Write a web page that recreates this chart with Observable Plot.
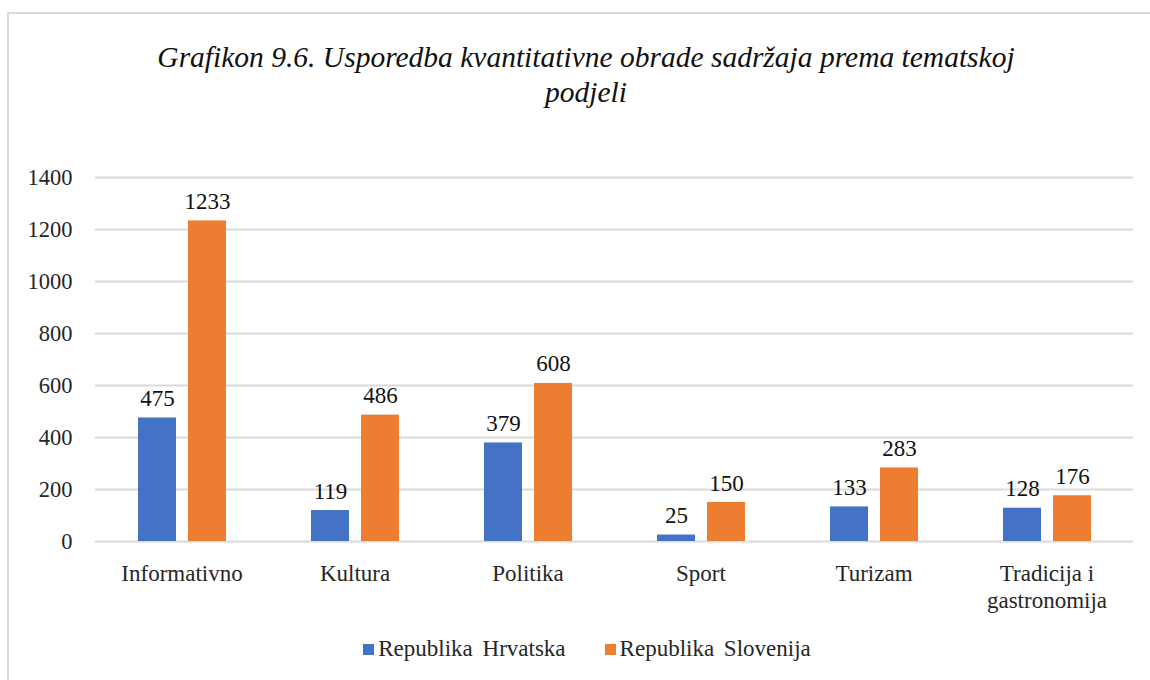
<!DOCTYPE html>
<html>
<head>
<meta charset="utf-8">
<script src="https://cdn.jsdelivr.net/npm/d3@7"></script>
<script src="https://cdn.jsdelivr.net/npm/@observablehq/plot@0.6"></script>
<style>
  html, body { margin: 0; padding: 0; background: #fff; }
  body { width: 1150px; height: 680px; position: relative; overflow: hidden; font-family: "Liberation Serif", Tinos, "Times New Roman", Times, "DejaVu Serif", serif; }
  #frame { position: absolute; left: 7px; top: 12px; width: 1170px; height: 720px; border: 2px solid #d9d9d9; box-sizing: border-box; }
  #title { position: absolute; left: 0; top: 40px; width: 1172px; text-align: center; font-style: italic; font-size: 29.5px; line-height: 35px; color: #111; }
  #chart { position: absolute; left: 0; top: 150px; }
  #legend { position: absolute; left: 0; top: 636px; width: 1174px; display: flex; justify-content: center; align-items: center; font-size: 23px; color: #262626; word-spacing: 4px; }
  .item { display: flex; align-items: center; }
  .item + .item { margin-left: 39px; }
  .sw { width: 11px; height: 11px; margin-right: 4px; }
</style>
</head>
<body>
<div id="frame"></div>
<div id="title">Grafikon 9.6. Usporedba kvantitativne obrade sadržaja prema tematskoj<br>podjeli</div>
<div id="chart"></div>
<div id="legend"></div>
<script>
const categories = ["Informativno", "Kultura", "Politika", "Sport", "Turizam", "Tradicija i gastronomija"];
const categoryLabels = ["Informativno", "Kultura", "Politika", "Sport", "Turizam", "Tradicija i\ngastronomija"];
const series = ["Republika Hrvatska", "Republika Slovenija"];
const hrvatska = [475, 119, 379, 25, 133, 128];
const slovenija = [1233, 486, 608, 150, 283, 176];
const yTicks = [0, 200, 400, 600, 800, 1000, 1200, 1400];
const colors = ["#4472C4", "#ED7D31"];

const data = categories.flatMap((c, i) => [
  {cat: c, s: series[0], v: hrvatska[i]},
  {cat: c, s: series[1], v: slovenija[i]}
]);

const serifStack = "'Liberation Serif', Tinos, 'Times New Roman', Times, 'DejaVu Serif', serif";

const chart = Plot.plot({
  width: 1150,
  height: 480,
  marginLeft: 95,
  marginRight: 17,
  marginTop: 27,
  marginBottom: 89,
  style: {fontFamily: serifStack, fontSize: "23px", color: "#262626", background: "transparent"},
  fx: {domain: categories, padding: 0, label: null, axis: null},
  x: {domain: series, paddingInner: 0.24, paddingOuter: 0.85, axis: null},
  y: {domain: [0, 1400], axis: null},
  color: {domain: series, range: colors},
  marks: [
    Plot.ruleY(yTicks, {stroke: "#d9d9d9", strokeWidth: 2}),
    Plot.barY(data, {fx: "cat", x: "s", y: "v", fill: "s"}),
    Plot.text(data, {fx: "cat", x: "s", y: "v", text: d => String(d.v), dy: -12, lineAnchor: "bottom", fill: "#111", fontSize: 23, fontFamily: serifStack}),
    Plot.axisY({ticks: yTicks, tickSize: 0, tickPadding: 23, tickFormat: d => String(d), fontSize: 22.5, fontFamily: serifStack, label: null}),
    Plot.axisFx({anchor: "bottom", tickSize: 0, tickPadding: 20, tickFormat: d => categoryLabels[categories.indexOf(d)], fontSize: 23, fontFamily: serifStack, lineHeight: 1.18, label: null})
  ]
});
document.getElementById("chart").appendChild(chart);

const legend = document.getElementById("legend");
series.forEach((s, i) => {
  const item = document.createElement("div");
  item.className = "item";
  const sw = document.createElement("div");
  sw.className = "sw";
  sw.style.background = colors[i];
  const t = document.createElement("span");
  t.textContent = s;
  item.appendChild(sw);
  item.appendChild(t);
  legend.appendChild(item);
});
</script>
</body>
</html>
